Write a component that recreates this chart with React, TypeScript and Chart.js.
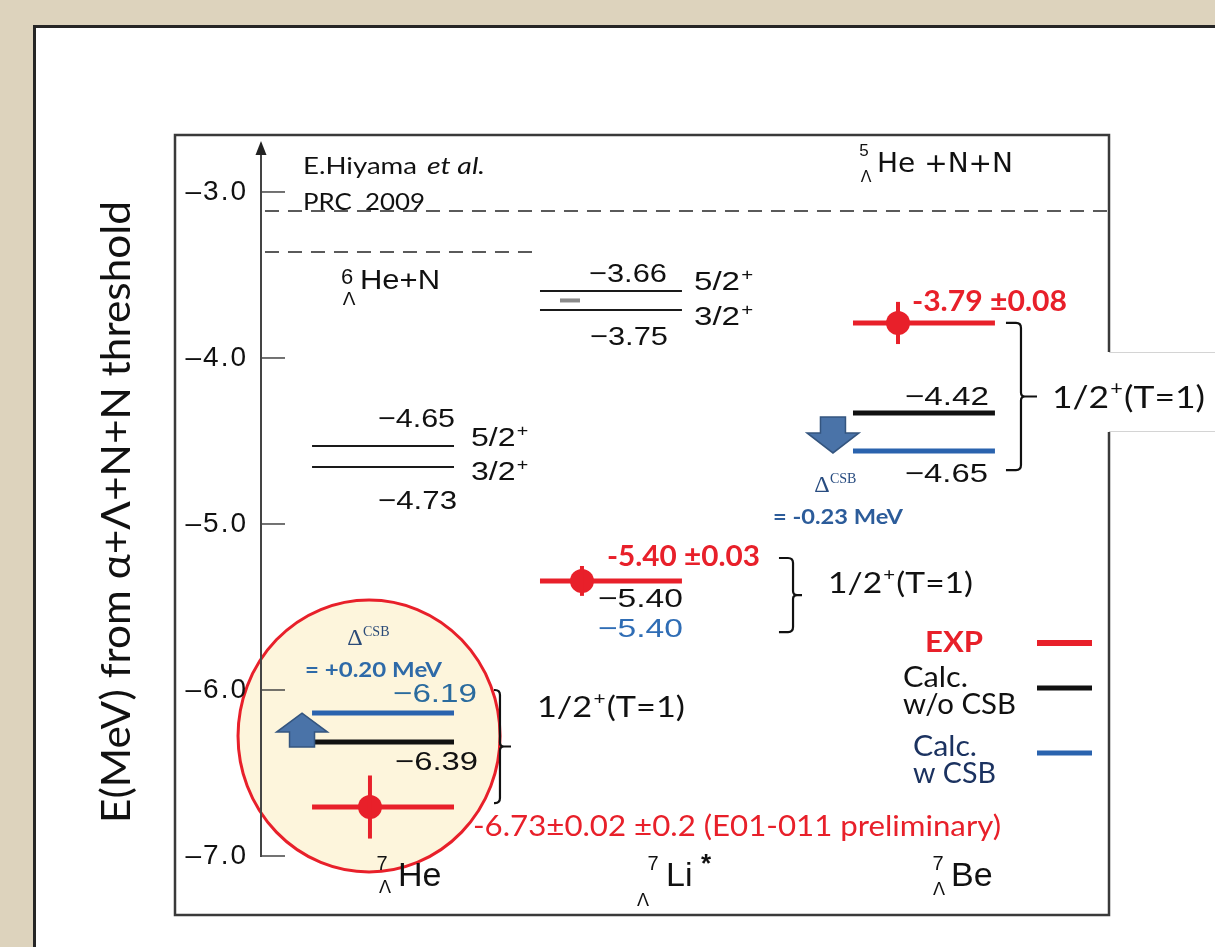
import { useEffect, useRef } from 'react';
import { Chart, registerables } from 'chart.js';

Chart.register(...registerables);

const W = 1215;
const H = 947;

// ---------------- data (energies in MeV; x in column units 0..100) ----------------
const nuclideMass = ['7', '7', '7'];
const nuclideSymbols = ['He', 'Li', 'Be'];
const nuclideSuffix = ['', '*', ''];
const columnCenters = [14.39, 41.27, 78.18];

const thresholdEnergies = [-3.114, -3.361];
const thresholdStart = [0.47, 0.47];
const thresholdEnd = [99.76, 31.96];
const thresholdMass = ['5', '6'];
const thresholdNames = ['He +N+N', 'He+N'];

const expEnergies = [-6.705, -5.343, -3.789];
const expErrors = [0.19, 0.09, 0.127];
const expMarkerX = [12.85, 37.85, 75.12];
const expTexts = ['-6.73±0.02 ±0.2 (E01-011 preliminary)', '-5.40 ±0.03', '-3.79 ±0.08'];

const calcNoCsbEnergies = [-6.313, null, -4.331];
const calcCsbEnergies = [-6.139, null, -4.56];
const calcNoCsbTexts = ['−6.39', '−5.40', '−4.42'];
const calcCsbTexts = ['−6.19', '−5.40', '−4.65'];
const csbShiftTexts = ['= +0.20 MeV', '', '= -0.23 MeV'];

const excitedEnergies = [[-4.53, -4.657], [-3.596, -3.711], []];
const excitedTexts = [['−4.65', '−4.73'], ['−3.66', '−3.75'], []];
const excitedSpins = ['5/2', '3/2'];

const groundBraces = [[-6.0, -6.681], [-5.205, -5.651], [-3.789, -4.675]];
const groundSpin = '1/2';
const groundIsospin = '(T=1)';

const legendLabels = [['EXP'], ['Calc.', 'w/o CSB'], ['Calc.', 'w CSB']];

const yTicks = [-7, -6, -5, -4, -3];
const yMin = -7;
const yMax = -2.717;
const yTitle = 'E(MeV) from α+Λ+N+N threshold';
const citation = ['E.Hiyama', 'et al.', 'PRC  2009'];

// ---------------- styles / layout ----------------
const HALF = 8.37;
const RED = '#e8202a';
const BLUE = '#2a63ae';
const BLACK = '#111111';
const highlightCenter = -6.277;
const braceX = [[27.48, 28.18, 29.48], [61.08, 62.74, 63.8], [87.85, 89.62, 91.51]];

function levelSegments(values: (number | null)[]) {
  const pts: any[] = [];
  values.forEach((v, i) => {
    if (v == null) return;
    const c = columnCenters[i];
    pts.push({ x: c - HALF, y: v }, { x: c + HALF, y: v }, { x: c + HALF, y: null });
  });
  return pts;
}

function excitedSegments() {
  const pts: any[] = [];
  excitedEnergies.forEach((arr, i) => {
    const c = columnCenters[i];
    arr.forEach((v) => {
      pts.push({ x: c - HALF, y: v }, { x: c + HALF, y: v }, { x: c + HALF, y: null });
    });
  });
  return pts;
}

function thresholdSegments() {
  const pts: any[] = [];
  thresholdEnergies.forEach((v, i) => {
    pts.push({ x: thresholdStart[i], y: v }, { x: thresholdEnd[i], y: v }, { x: thresholdEnd[i], y: null });
  });
  return pts;
}

function fit(ctx: any, s: string, x: number, cy: number, font: string, color: string, width?: number, align = 'left') {
  ctx.save();
  ctx.font = font;
  ctx.fillStyle = color;
  ctx.textBaseline = 'middle';
  ctx.textAlign = 'left';
  const m = ctx.measureText(s).width;
  const sx = width ? width / m : 1;
  const w = m * sx;
  const left = align === 'left' ? x : align === 'right' ? x - w : x - w / 2;
  ctx.translate(left, cy);
  ctx.scale(sx, 1);
  ctx.fillText(s, 0, 0);
  ctx.restore();
  return w;
}

function spinLabel(ctx: any, main: string, after: string, x: number, cy: number, family: string, size: number, width: number, color: string) {
  ctx.save();
  const f = `${size}px ${family}`;
  const fs = `${Math.round(size * 0.6)}px ${family}`;
  ctx.font = f;
  const w1 = ctx.measureText(main).width;
  const w3 = after ? ctx.measureText(after).width : 0;
  ctx.font = fs;
  const w2 = ctx.measureText('+').width;
  const total = w1 + w2 + (after ? 2 + w3 : 0);
  const sx = width / total;
  ctx.translate(x, cy);
  ctx.scale(sx, 1);
  ctx.textBaseline = 'middle';
  ctx.textAlign = 'left';
  ctx.fillStyle = color;
  ctx.font = f;
  ctx.fillText(main, 0, 0);
  ctx.font = fs;
  ctx.fillText('+', w1 + 1, -size * 0.3);
  if (after) {
    ctx.font = f;
    ctx.fillText(after, w1 + w2 + 2, 0);
  }
  ctx.restore();
}

function brace(ctx: any, xh: number, xv: number, xt: number, yt: number, yb: number) {
  const ym = (yt + yb) / 2;
  const r = 5;
  ctx.beginPath();
  ctx.moveTo(xh, yt);
  ctx.lineTo(xv - r, yt);
  ctx.quadraticCurveTo(xv, yt, xv, yt + r);
  ctx.lineTo(xv, ym - 4);
  ctx.quadraticCurveTo(xv, ym, xv + 4, ym);
  ctx.lineTo(xt, ym);
  ctx.moveTo(xv + 4, ym);
  ctx.quadraticCurveTo(xv, ym, xv, ym + 4);
  ctx.lineTo(xv, yb - r);
  ctx.quadraticCurveTo(xv, yb, xv - r, yb);
  ctx.lineTo(xh, yb);
  ctx.stroke();
}

function blockArrow(ctx: any, cx: number, yBase: number, yTip: number, shaftHalf: number, headHalf: number, headLen: number) {
  const dir = Math.sign(yTip - yBase);
  const yHead = yTip - dir * headLen;
  ctx.beginPath();
  ctx.moveTo(cx - shaftHalf, yBase);
  ctx.lineTo(cx - shaftHalf, yHead);
  ctx.lineTo(cx - headHalf, yHead);
  ctx.lineTo(cx, yTip);
  ctx.lineTo(cx + headHalf, yHead);
  ctx.lineTo(cx + shaftHalf, yHead);
  ctx.lineTo(cx + shaftHalf, yBase);
  ctx.closePath();
  ctx.fillStyle = '#4a73a8';
  ctx.fill();
  ctx.strokeStyle = '#34557f';
  ctx.lineWidth = 1.5;
  ctx.stroke();
}

function deltaCsb(ctx: any, cx: number, cy: number, color: string) {
  ctx.save();
  ctx.fillStyle = color;
  ctx.textBaseline = 'middle';
  ctx.textAlign = 'center';
  ctx.font = '24px "Liberation Serif"';
  ctx.fillText('Δ', cx, cy);
  ctx.textAlign = 'left';
  ctx.font = '14px "Liberation Serif"';
  ctx.fillText('CSB', cx + 8, cy - 7);
  ctx.restore();
}

const diagramPlugin = {
  id: 'levelDiagram',
  beforeDraw(chart: any) {
    const { ctx, chartArea } = chart;
    const xs = chart.scales.x;
    const ys = chart.scales.y;
    ctx.save();
    ctx.fillStyle = '#ddd3bd';
    ctx.fillRect(0, 0, W, H);
    ctx.fillStyle = '#ffffff';
    ctx.fillRect(35, 27, W, H);
    ctx.strokeStyle = '#262626';
    ctx.lineWidth = 3;
    ctx.beginPath();
    ctx.moveTo(34.5, H);
    ctx.lineTo(34.5, 26.5);
    ctx.lineTo(W, 26.5);
    ctx.stroke();
    ctx.strokeStyle = '#3a3a3a';
    ctx.lineWidth = 2.5;
    ctx.strokeRect(175, 135, chartArea.right - 175, 780);
    const ex = xs.getPixelForValue(columnCenters[0]) - 14;
    const ey = ys.getPixelForValue(highlightCenter);
    ctx.beginPath();
    ctx.ellipse(ex, ey, 131, 136, 0, 0, Math.PI * 2);
    ctx.fillStyle = '#fdf5dc';
    ctx.fill();
    ctx.strokeStyle = RED;
    ctx.lineWidth = 3;
    ctx.stroke();
    ctx.restore();
    ctx.letterSpacing = '2px';
  },
  beforeDatasetsDraw(chart: any) {
    chart.ctx.letterSpacing = '0px';
  },
  afterDraw(chart: any) {
    const { ctx, chartArea } = chart;
    const xs = chart.scales.x;
    const ys = chart.scales.y;
    const X = (v: number) => xs.getPixelForValue(v);
    const Y = (v: number) => ys.getPixelForValue(v);
    const axisX = chartArea.left;
    ctx.save();
    ctx.letterSpacing = '0px';

    // tick marks and axis arrow
    ctx.strokeStyle = '#444';
    ctx.lineWidth = 1.5;
    ys.ticks.forEach((t: any) => {
      const y = Y(t.value);
      ctx.beginPath();
      ctx.moveTo(axisX, y);
      ctx.lineTo(axisX + 24, y);
      ctx.stroke();
    });
    ctx.fillStyle = '#222';
    ctx.beginPath();
    ctx.moveTo(axisX, chartArea.top - 4);
    ctx.lineTo(axisX - 5.5, chartArea.top + 10);
    ctx.lineTo(axisX + 5.5, chartArea.top + 10);
    ctx.closePath();
    ctx.fill();

    // error bars
    ctx.strokeStyle = RED;
    ctx.lineWidth = 4;
    expEnergies.forEach((e, i) => {
      const x = X(expMarkerX[i]);
      ctx.beginPath();
      ctx.moveTo(x, Y(e + expErrors[i]));
      ctx.lineTo(x, Y(e - expErrors[i]));
      ctx.stroke();
    });

    // small mark between 7Li* levels
    {
      const L = X(columnCenters[1] - HALF);
      const ym = (Y(excitedEnergies[1][0]) + Y(excitedEnergies[1][1])) / 2;
      ctx.fillStyle = '#8a8a8a';
      ctx.fillRect(L + 20, ym - 2, 20, 4);
    }

    // threshold labels
    const t0 = Y(thresholdEnergies[0]);
    const t1 = Y(thresholdEnergies[1]);
    fit(ctx, thresholdMass[0], 864, t0 - 60, '17px "Liberation Sans"', BLACK, undefined, 'center');
    fit(ctx, 'Λ', 866, t0 - 33, '16px "Liberation Sans"', BLACK, undefined, 'center');
    fit(ctx, thresholdNames[0], 877, t0 - 46, '27px "DejaVu Sans"', BLACK, 136);
    fit(ctx, thresholdMass[1], 347, t1 + 26, '22px "Liberation Sans"', BLACK, undefined, 'center');
    fit(ctx, 'Λ', 349, t1 + 48, '19px "Liberation Sans"', BLACK, undefined, 'center');
    fit(ctx, thresholdNames[1], 360, t1 + 30, '27px "Liberation Sans"', BLACK, 80);

    // citation
    fit(ctx, citation[0], 303, 166, '24px Lato', BLACK, 114);
    fit(ctx, citation[1], 427, 166, 'italic 24px Lato', BLACK, 58);
    fit(ctx, citation[2], 303, 202, '24px Lato', BLACK, 122);

    const NUM = '26px "Liberation Sans"';
    const R = (i: number) => X(columnCenters[i] + HALF);
    const C = (i: number) => X(columnCenters[i]);

    // 7He excited
    {
      const r = R(0);
      const [e1, e2] = excitedEnergies[0].map(Y);
      fit(ctx, excitedTexts[0][0], r + 1, e1 - 26, NUM, BLACK, 77, 'right');
      spinLabel(ctx, excitedSpins[0], '', r + 17, e1 - 7, '"Liberation Sans"', 26, 56, BLACK);
      spinLabel(ctx, excitedSpins[1], '', r + 17, e2 + 6, '"Liberation Sans"', 26, 56, BLACK);
      fit(ctx, excitedTexts[0][1], r + 3, e2 + 35, NUM, BLACK, 79, 'right');
    }
    // 7Li* excited
    {
      const r = R(1);
      const [e1, e2] = excitedEnergies[1].map(Y);
      fit(ctx, excitedTexts[1][0], r - 15, e1 - 16, NUM, BLACK, 78, 'right');
      spinLabel(ctx, excitedSpins[0], '', r + 12, e1 - 8, '"Liberation Sans"', 26, 58, BLACK);
      spinLabel(ctx, excitedSpins[1], '', r + 12, e2 + 8, '"Liberation Sans"', 26, 58, BLACK);
      fit(ctx, excitedTexts[1][1], r - 14, e2 + 28, NUM, BLACK, 78, 'right');
    }

    // 7He ground
    {
      const r = R(0);
      const c = C(0);
      const yb = Y(calcCsbEnergies[0] as number);
      const yk = Y(calcNoCsbEnergies[0] as number);
      const ye = Y(expEnergies[0]);
      fit(ctx, calcCsbTexts[0], r + 23, yb - 18, NUM, '#2a6b9e', 84, 'right');
      fit(ctx, calcNoCsbTexts[0], r + 24, yk + 21, NUM, BLACK, 83, 'right');
      fit(ctx, expTexts[0], r + 19, ye + 20, '28px Lato', RED, 528);
      deltaCsb(ctx, c - 28, yb - 74, '#2b4b78');
      fit(ctx, csbShiftTexts[0], c - 78, yb - 43, 'bold 20px Lato', '#2e6aa8', 137);
      blockArrow(ctx, c - 81, yk + 5, yb, 12.5, 25.5, 19);
    }
    // 7Li ground
    {
      const r = R(1);
      const ye = Y(expEnergies[1]);
      fit(ctx, expTexts[1], r - 75, ye - 24, 'bold 29px Lato', RED, 153);
      fit(ctx, calcNoCsbTexts[1], r + 1, ye + 19, NUM, BLACK, 85, 'right');
      fit(ctx, calcCsbTexts[1], r + 1, ye + 49, NUM, '#2f6db5', 85, 'right');
    }
    // 7Be ground
    {
      const r = R(2);
      const c = C(2);
      const ye = Y(expEnergies[2]);
      const yk = Y(calcNoCsbEnergies[2] as number);
      const yb = Y(calcCsbEnergies[2] as number);
      fit(ctx, expTexts[2], r - 83, ye - 21, 'bold 29px Lato', RED, 155);
      fit(ctx, calcNoCsbTexts[2], r - 6, yk - 15, NUM, BLACK, 84, 'right');
      fit(ctx, calcCsbTexts[2], r - 7, yb + 24, NUM, BLACK, 83, 'right');
      deltaCsb(ctx, c - 102, yb + 35, '#284c80');
      fit(ctx, csbShiftTexts[2], c - 151, yb + 67, 'bold 20px Lato', '#2c5c9a', 130);
      blockArrow(ctx, c - 91, yk + 4, yb + 2, 12.5, 26, 20);
    }

    // white label box for 7Be spin
    ctx.fillStyle = '#ffffff';
    ctx.fillRect(1042, 352, W - 1042, 80);
    ctx.strokeStyle = '#d4d4d4';
    ctx.lineWidth = 1;
    ctx.beginPath();
    ctx.moveTo(chartArea.right, 352.5);
    ctx.lineTo(W, 352.5);
    ctx.moveTo(chartArea.right, 431.5);
    ctx.lineTo(W, 431.5);
    ctx.stroke();

    // braces and spin labels
    ctx.strokeStyle = BLACK;
    ctx.lineWidth = 2.2;
    const spinDx = [26, 26, 15];
    const spinDy = [-39, -11, 2];
    const spinSize = [28, 28, 31];
    const spinWidth = [148, 145, 153];
    groundBraces.forEach(([a, b], i) => {
      const yt = Y(a);
      const yb = Y(b);
      const [xh, xv, xt] = braceX[i].map(X);
      brace(ctx, xh, xv, xt, yt, yb);
      const ym = (yt + yb) / 2;
      spinLabel(ctx, groundSpin, groundIsospin, xt + spinDx[i], ym + spinDy[i], 'Lato', spinSize[i], spinWidth[i], BLACK);
    });

    // legend
    const legendColors = [RED, BLACK, BLUE];
    const legendText = [RED, BLACK, '#1b3260'];
    const legendLeft = [925, 903, 913];
    const legendY = [643, 678, 747];
    const legendLineY = [643, 688, 753];
    const legendLineW = [6, 5, 5];
    const legendWidths = [[58], [65, 113], [64, 83]];
    legendLabels.forEach((lines, i) => {
      lines.forEach((s, j) => {
        fit(ctx, s, legendLeft[i], legendY[i] + j * 27, i === 0 ? 'bold 29px Lato' : '29px Lato', legendText[i], legendWidths[i][j]);
      });
      ctx.strokeStyle = legendColors[i];
      ctx.lineWidth = legendLineW[i];
      ctx.beginPath();
      ctx.moveTo(1037, legendLineY[i]);
      ctx.lineTo(1092, legendLineY[i]);
      ctx.stroke();
    });

    // nuclide names below the axis
    const supDx = [-1, 42, 14];
    const subDx = [2, 32, 15];
    const subDy = [32, 45, 34];
    const symDx = [15, 55, 27];
    const base = chartArea.bottom;
    nuclideSymbols.forEach((s, i) => {
      const c = C(i);
      fit(ctx, nuclideMass[i], c + supDx[i], base + 8, '20px "Liberation Sans"', BLACK, undefined, 'center');
      fit(ctx, 'Λ', c + subDx[i], base + subDy[i], '18px "Liberation Sans"', BLACK, undefined, 'center');
      fit(ctx, s, c + symDx[i], base + 21, '34px "Liberation Sans"', BLACK);
      if (nuclideSuffix[i]) fit(ctx, nuclideSuffix[i], c + 95, base + 9, 'bold 26px "Liberation Sans"', BLACK, undefined, 'center');
    });

    // y title
    ctx.save();
    ctx.translate(117, 512);
    ctx.rotate(-Math.PI / 2);
    fit(ctx, yTitle, 0, 0, '40px Lato', BLACK, 622, 'center');
    ctx.restore();

    ctx.restore();
  },
};

export default function App() {
  const ref = useRef<HTMLCanvasElement>(null);
  useEffect(() => {
    document.body.style.margin = '0';
    const chart = new Chart(ref.current as HTMLCanvasElement, {
      type: 'line',
      data: {
        datasets: [
          {
            label: 'EXP markers',
            data: expEnergies.map((e, i) => ({ x: expMarkerX[i], y: e })),
            showLine: false,
            pointRadius: 12,
            pointBackgroundColor: RED,
            pointBorderWidth: 0,
            order: 0,
          },
          {
            label: 'EXP',
            data: levelSegments(expEnergies),
            borderColor: RED,
            borderWidth: 5,
            pointRadius: 0,
            spanGaps: false,
            order: 1,
          },
          {
            label: 'Calc. w/o CSB',
            data: levelSegments(calcNoCsbEnergies),
            borderColor: BLACK,
            borderWidth: 5,
            pointRadius: 0,
            spanGaps: false,
            order: 2,
          },
          {
            label: 'Calc. w CSB',
            data: levelSegments(calcCsbEnergies),
            borderColor: BLUE,
            borderWidth: 5,
            pointRadius: 0,
            spanGaps: false,
            order: 3,
          },
          {
            label: 'Excited',
            data: excitedSegments(),
            borderColor: '#1a1a1a',
            borderWidth: 2,
            pointRadius: 0,
            spanGaps: false,
            order: 4,
          },
          {
            label: 'Thresholds',
            data: thresholdSegments(),
            borderColor: '#5a5a5a',
            borderWidth: 2,
            borderDash: [14, 9],
            pointRadius: 0,
            spanGaps: false,
            order: 5,
          },
        ] as any,
      },
      options: {
        responsive: false,
        animation: false,
        devicePixelRatio: 1,
        layout: { padding: { left: 0, top: 145, right: 106, bottom: 91 } },
        plugins: {
          legend: { display: false },
          tooltip: { enabled: false },
          title: { display: false },
        },
        scales: {
          x: { type: 'linear', min: 0, max: 100, display: false },
          y: {
            type: 'linear',
            min: yMin,
            max: yMax,
            afterFit: (s: any) => {
              s.width = 261;
            },
            afterBuildTicks: (s: any) => {
              s.ticks = yTicks.map((v) => ({ value: v }));
            },
            grid: { display: false, drawTicks: false },
            border: { display: true, color: '#444', width: 2 },
            ticks: {
              color: '#111',
              padding: 13,
              font: { family: '"Liberation Sans"', size: 28 },
              callback: (v: any) => '–' + Math.abs(Number(v)).toFixed(1),
            },
          },
        },
      } as any,
      plugins: [diagramPlugin],
    });
    return () => chart.destroy();
  }, []);
  return (
    <div style={{ position: 'absolute', left: 0, top: 0, width: W, height: H }}>
      <canvas ref={ref} width={W} height={H} style={{ display: 'block', width: W, height: H }} />
    </div>
  );
}
